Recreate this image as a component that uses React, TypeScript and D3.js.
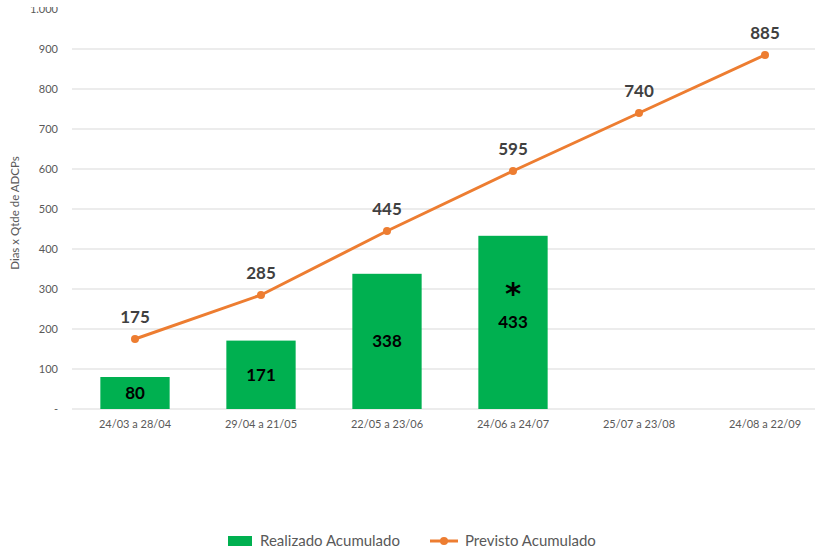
import React from "react";
import * as d3 from "d3";

const categories = ["24/03 a 28/04", "29/04 a 21/05", "22/05 a 23/06", "24/06 a 24/07", "25/07 a 23/08", "24/08 a 22/09"];
const realizado: (number | null)[] = [80, 171, 338, 433, null, null];
const previsto = [175, 285, 445, 595, 740, 885];
const yTicks = [0, 100, 200, 300, 400, 500, 600, 700, 800, 900, 1000];
const yTickLabels = ["-", "100", "200", "300", "400", "500", "600", "700", "800", "900", "1.000"];

const W = 815, H = 553;
const FONT = "Lato, 'Open Sans', sans-serif";

export default function App() {
  const x = d3.scaleBand<string>().domain(categories).range([72, 828]).paddingInner(0.45).paddingOuter(0.225);
  const y = d3.scaleLinear().domain([0, 1000]).range([409, 9]);
  const cx = (c: string) => (x(c) ?? 0) + x.bandwidth() / 2;
  const line = d3.line<number>().x((_, i) => cx(categories[i])).y((d) => y(d));

  return (
    <svg width={W} height={H} style={{ position: "absolute", left: 0, top: 0, background: "#fff" }} fontFamily={FONT}>
      <defs>
        <clipPath id="top"><rect x={0} y={7} width={W} height={H} /></clipPath>
      </defs>
      {yTicks.map((t, i) => (
        <g key={t}>
          {t > 0 && t < 1000 && <line x1={72} x2={828} y1={y(t)} y2={y(t)} stroke="#D9D9D9" strokeWidth={1} />}
          <text x={58} y={y(t)} dy="0.35em" textAnchor="end" fontSize={11} fill="#595959" clipPath="url(#top)">{yTickLabels[i]}</text>
        </g>
      ))}
      <line x1={72} x2={828} y1={y(0)} y2={y(0)} stroke="#D9D9D9" strokeWidth={1} />
      <text transform={`translate(19,213) rotate(-90)`} textAnchor="middle" fontSize={11.5} fill="#595959">Dias x Qtde de ADCPs</text>
      {categories.map((c, i) => {
        const v = realizado[i];
        return (
          <g key={c}>
            {v != null && (
              <>
                <rect x={x(c)} y={y(v)} width={x.bandwidth()} height={y(0) - y(v)} fill="#00B050" />
                <text x={cx(c)} y={(y(v) + y(0)) / 2} dy="0.35em" textAnchor="middle" fontSize={17} fontWeight="bold" fill="#000">{v}</text>
              </>
            )}
            <text x={cx(c)} y={428} textAnchor="middle" fontSize={11} fill="#595959">{c}</text>
          </g>
        );
      })}
      <text x={cx(categories[3])} y={304} textAnchor="middle" fontSize={31} fontWeight="bold" fill="#000" fontFamily="'DejaVu Sans', sans-serif">*</text>
      <path d={line(previsto) ?? ""} fill="none" stroke="#ED7D31" strokeWidth={3} strokeLinejoin="round" />
      {previsto.map((v, i) => (
        <g key={i}>
          <circle cx={cx(categories[i])} cy={y(v)} r={4} fill="#ED7D31" />
          <text x={cx(categories[i])} y={y(v) - 16} textAnchor="middle" fontSize={17} fontWeight="bold" fill="#404040">{v}</text>
        </g>
      ))}
      <rect x={228} y={536} width={24} height={10} fill="#00B050" />
      <text x={260} y={541} dy="0.35em" fontSize={15} fill="#595959">Realizado Acumulado</text>
      <line x1={430} x2={458} y1={541} y2={541} stroke="#ED7D31" strokeWidth={3} />
      <circle cx={444} cy={541} r={4} fill="#ED7D31" />
      <text x={465} y={541} dy="0.35em" fontSize={15} fill="#595959">Previsto Acumulado</text>
    </svg>
  );
}
